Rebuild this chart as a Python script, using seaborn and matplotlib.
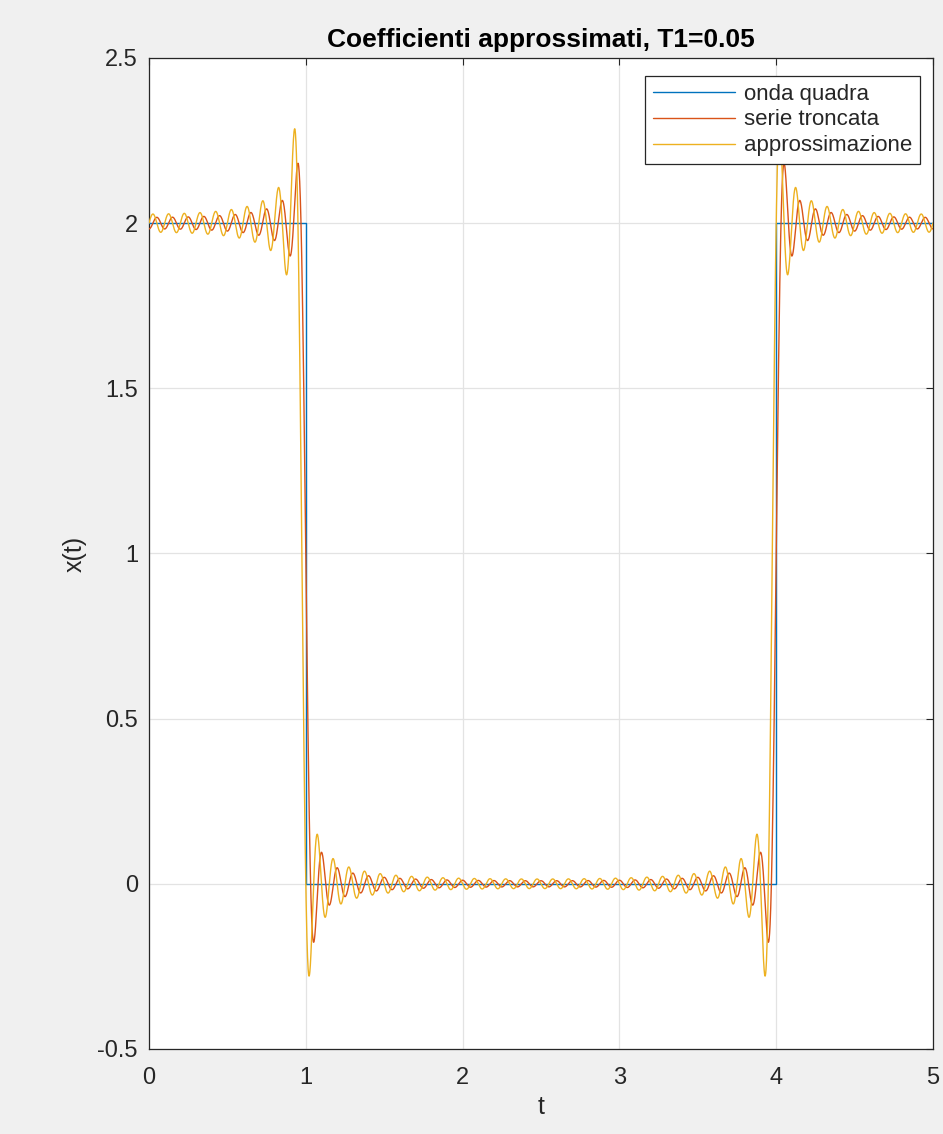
import numpy as np
import pandas as pd
import matplotlib
matplotlib.use("Agg")
import matplotlib.pyplot as plt
import seaborn as sns

# Square wave: one period on [0, 5], high level 2 for t < 1 and t > 4
t_square = [0.0, 1.0, 1.0, 4.0, 4.0, 5.0]
x_square = [2.0, 2.0, 0.0, 0.0, 2.0, 2.0]
period = 5.0
pulse_edges = [1.0, 4.0]
high_level = 2.0
n_harmonics = 50
T1 = 0.05

series_labels = ["onda quadra", "serie troncata", "approssimazione"]
series_colors = ["#0072BD", "#D95319", "#EDB120"]
x_ticks = [0, 1, 2, 3, 4, 5]
y_ticks = [-0.5, 0, 0.5, 1, 1.5, 2, 2.5]

# Fourier coefficients of the pulse train (exact and from samples spaced T1)
k = np.arange(-n_harmonics, n_harmonics + 1)
half_width = pulse_edges[0]
c_exact = np.where(
    k == 0,
    high_level * 2 * half_width / period,
    high_level * np.sin(2 * np.pi * k * half_width / period) / (np.pi * np.where(k == 0, 1, k)),
)
t_samples = np.arange(0, period, T1)
x_samples = np.where((t_samples < pulse_edges[0]) | (t_samples >= pulse_edges[1]), high_level, 0.0)
c_approx = np.array([
    np.sum(x_samples * np.exp(-2j * np.pi * kk * t_samples / period)) * T1 / period for kk in k
])

t = np.linspace(0, period, 5001)
basis = np.exp(2j * np.pi * np.outer(t, k) / period)
x_trunc = np.real(basis @ c_exact)
x_approx = np.real(basis @ c_approx)

df_sq = pd.DataFrame({"t": t_square, "x": x_square})
df_tr = pd.DataFrame({"t": t, "x": x_trunc})
df_ap = pd.DataFrame({"t": t, "x": x_approx})

sns.set_theme(style="white")
plt.rcParams["font.family"] = ["Liberation Sans", "DejaVu Sans"]

fig = plt.figure(figsize=(9.43, 11.34), dpi=100, facecolor="#f0f0f0")
ax = fig.add_axes([0.158, 0.075, 0.8314, 0.8739])
ax.set_facecolor("white")

lw = 1.0
sns.lineplot(data=df_sq, x="t", y="x", ax=ax, color=series_colors[0], lw=lw,
             sort=False, estimator=None, label=series_labels[0], zorder=3)
sns.lineplot(data=df_tr, x="t", y="x", ax=ax, color=series_colors[1], lw=lw,
             sort=False, estimator=None, label=series_labels[1], zorder=4)
sns.lineplot(data=df_ap, x="t", y="x", ax=ax, color=series_colors[2], lw=lw,
             sort=False, estimator=None, label=series_labels[2], zorder=5)

ax.set_xlim(0, 5)
ax.set_ylim(-0.5, 2.5)
ax.set_xticks(x_ticks)
ax.set_yticks(y_ticks)
ax.set_xticklabels([str(v) for v in x_ticks])
ax.set_yticklabels(["-0.5", "0", "0.5", "1", "1.5", "2", "2.5"])
ax.grid(True, color="#e3e3e3", lw=0.9, zorder=0)
ax.set_axisbelow(True)
ax.tick_params(direction="in", top=True, right=True, length=5, width=0.8,
               colors="#262626", labelsize=17)
ax.tick_params(axis="x", pad=13)
ax.tick_params(axis="y", pad=8)
for sp in ax.spines.values():
    sp.set_color("#262626")
    sp.set_linewidth(0.9)

ax.set_xlabel("t", fontsize=18, color="#262626", labelpad=4)
ax.set_ylabel("x(t)", fontsize=18, color="#262626", labelpad=8)
ax.set_title("Coefficienti approssimati, T1=0.05", fontsize=19, fontweight="bold",
             color="black", pad=8)

leg = ax.legend(loc="upper right", bbox_to_anchor=(0.9835, 0.982), fontsize=16,
                frameon=True, fancybox=False, framealpha=1, edgecolor="#262626",
                handlelength=3.7, borderpad=0.35, labelspacing=0.22, handletextpad=0.4,
                borderaxespad=0)
leg.get_frame().set_linewidth(0.9)

fig.savefig("out.png", dpi=100, facecolor=fig.get_facecolor())
